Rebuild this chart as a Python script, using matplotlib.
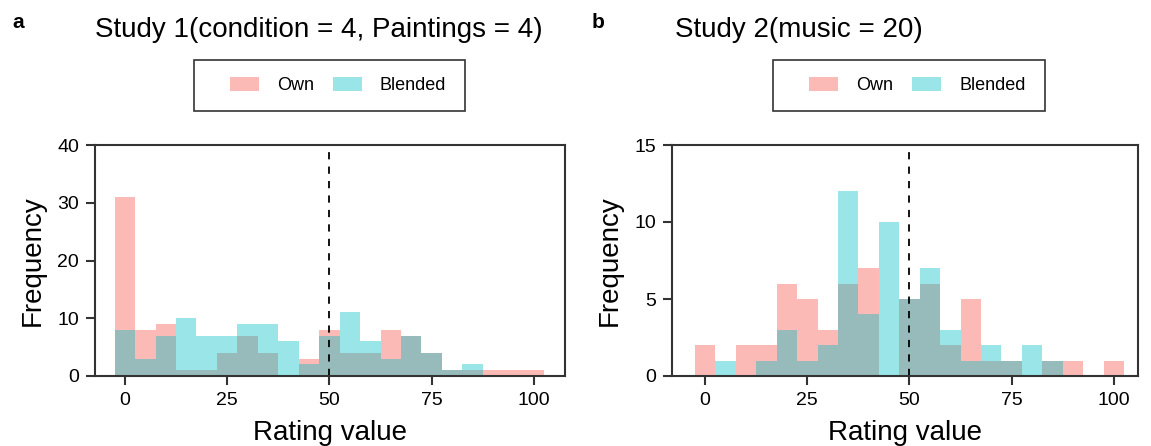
import numpy as np
import matplotlib
matplotlib.use("Agg")
import matplotlib.pyplot as plt
from matplotlib.patches import Patch, Rectangle

plt.rcParams['font.family'] = ['Liberation Sans', 'DejaVu Sans']

# bin centers (rating value), bin width 5
bin_centers = [0, 5, 10, 15, 20, 25, 30, 35, 40, 45, 50, 55, 60, 65, 70, 75, 80, 85, 90, 95, 100]
bin_width = 5

# Study 1 counts
s1_own =     [31, 8, 9, 1, 1, 4, 7, 4, 0, 3, 8, 4, 4, 8, 7, 4, 1, 1, 1, 1, 1]
s1_blended = [8, 3, 7, 10, 7, 7, 9, 9, 6, 2, 7, 11, 6, 3, 7, 4, 1, 2, 0, 0, 0]

# Study 2 counts
s2_own =     [2, 0, 2, 2, 6, 5, 3, 6, 7, 0, 5, 6, 2, 5, 1, 1, 0, 1, 1, 0, 1]
s2_blended = [0, 1, 0, 1, 3, 1, 2, 12, 4, 10, 5, 7, 3, 1, 2, 1, 2, 1, 0, 0, 0]

titles = ["Study 1(condition = 4, Paintings = 4)", "Study 2(music = 20)"]
panel_letters = ["a", "b"]
xticks = [0, 25, 50, 75, 100]
yticks_list = [[0, 10, 20, 30, 40], [0, 5, 10, 15]]
ylims = [40, 15]
xlims = [(-7.3, 107.6), (-8.1, 105.9)]
legend_labels = ["Own", "Blended"]

own_color = "#F8766D"
blend_color = "#00BFC4"
spine_color = "#333333"

W, H = 1151, 446
fig = plt.figure(figsize=(W / 100, H / 100), dpi=100)

axes_px = [(95, 565), (672, 1138)]
top_px, bot_px = 145, 376
legend_box_px = [(194, 465), (773, 1045)]
legend_content_center_px = [338, 917.5]
legend_y_px = (60, 111)
title_x_px = [95, 675]
letter_x_px = [12, 592]

data = [(s1_own, s1_blended), (s2_own, s2_blended)]

for i in range(2):
    l, r = axes_px[i]
    ax = fig.add_axes([l / W, (H - bot_px) / H, (r - l) / W, (bot_px - top_px) / H])
    own, blended = data[i]
    ax.bar(bin_centers, own, width=bin_width, color=own_color, alpha=0.5, linewidth=0)
    ax.bar(bin_centers, blended, width=bin_width, color=blend_color, alpha=0.4, linewidth=0)
    ax.axvline(50, color="black", linestyle=(0, (4, 4)), linewidth=1.3)
    ax.set_xlim(*xlims[i])
    ax.set_ylim(0, ylims[i])
    ax.set_xticks(xticks)
    ax.set_yticks(yticks_list[i])
    for s in ax.spines.values():
        s.set_color(spine_color)
        s.set_linewidth(1.5)
    ax.tick_params(axis="both", direction="out", length=6.5, width=1.5, color=spine_color,
                   labelsize=14, labelcolor="black", pad=5)
    ax.set_xlabel("Rating value", fontsize=20, labelpad=8)
    ax.set_ylabel("Frequency", fontsize=20, labelpad=8)

    # title
    fig.text(title_x_px[i] / W, 1 - 30 / H, titles[i], fontsize=20, ha="left", va="center")
    fig.text(letter_x_px[i] / W, 1 - 22 / H, panel_letters[i], fontsize=15, fontweight="bold",
             ha="left", va="center")

    # legend frame
    bl, br = legend_box_px[i]
    yt, yb = legend_y_px
    fig.patches.append(Rectangle((bl / W, 1 - yb / H), (br - bl) / W, (yb - yt) / H,
                                 transform=fig.transFigure, fill=False,
                                 edgecolor="#333333", linewidth=1.2))
    handles = [Patch(facecolor=own_color, alpha=0.5, edgecolor="none"),
               Patch(facecolor=blend_color, alpha=0.4, edgecolor="none")]
    fig.legend(handles, legend_labels, loc="center",
               bbox_to_anchor=(legend_content_center_px[i] / W, 1 - (yt + yb) / 2 / H),
               ncol=2, fontsize=13, frameon=False,
               handlelength=1.6, handleheight=0.83, handletextpad=1.0,
               columnspacing=1.05, borderpad=0, borderaxespad=0)

fig.savefig("out.png", dpi=100)
